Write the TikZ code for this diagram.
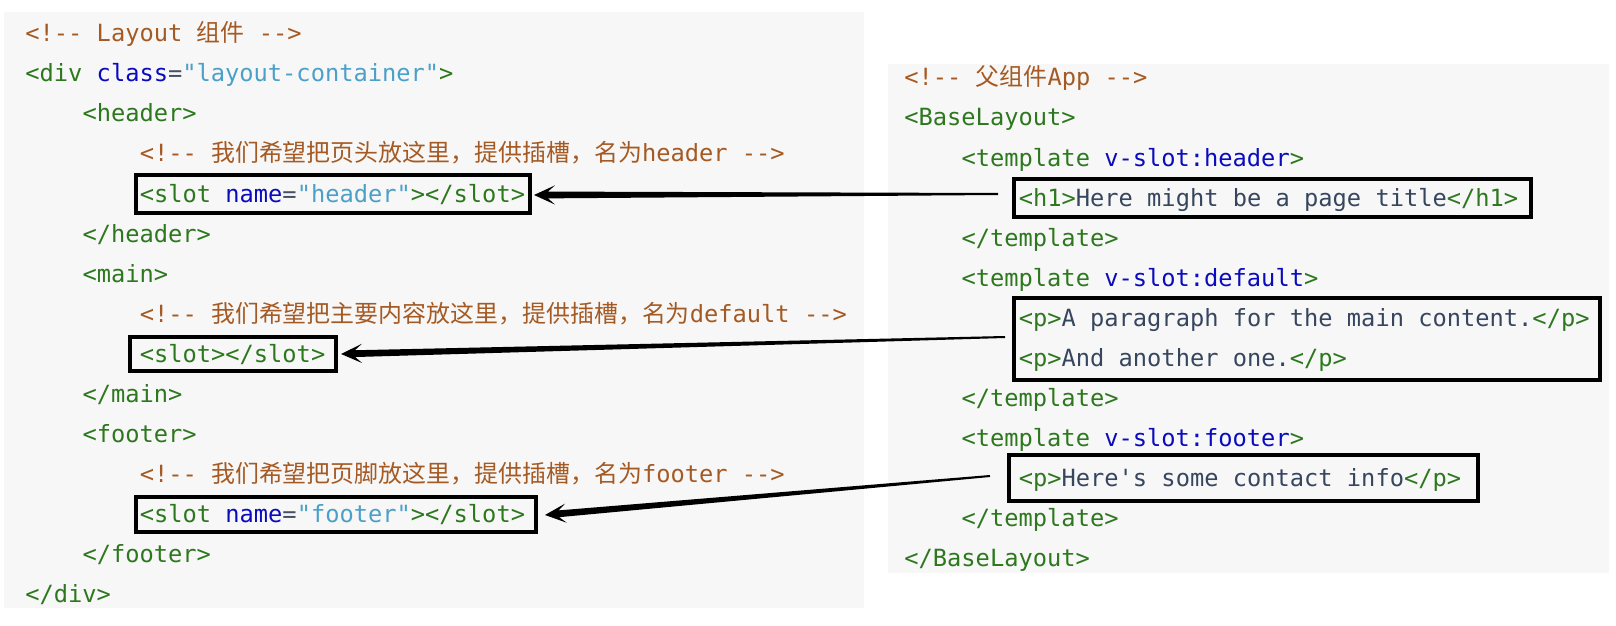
\documentclass[tikz,border=0pt]{standalone}
\usepackage{fontspec}
\setmonofont{DejaVu Sans Mono}
\newfontfamily\cjk{Noto Sans CJK SC}[Scale=1.01]
\usetikzlibrary{calc}
\definecolor{cmtc}{RGB}{165,90,35}
\definecolor{tagc}{RGB}{45,120,30}
\definecolor{attc}{RGB}{10,10,190}
\definecolor{valc}{RGB}{75,160,200}
\definecolor{eqcc}{RGB}{70,80,100}
\definecolor{txtc}{RGB}{55,70,95}
\definecolor{bgc}{RGB}{247,247,247}
\newcommand\codecm[1]{\textcolor{cmtc}{#1}}
\newcommand\codetg[1]{\textcolor{tagc}{#1}}
\newcommand\codeat[1]{\textcolor{attc}{#1}}
\newcommand\codeeq[1]{\textcolor{eqcc}{#1}}
\newcommand\codevl[1]{\textcolor{valc}{#1}}
\newcommand\codetx[1]{\textcolor{txtc}{#1}}
\newcommand\taperarrow[2]{%
  \coordinate (tb) at ($(#2)!7pt!(#1)$);
  \coordinate (tc) at ($(#2)!10.5pt!(#1)$);
  \fill[black] ($(#1)!0.5pt!90:(#2)$) -- ($(tb)!1.7pt!90:(#2)$) -- ($(tc)!4.8pt!90:(#2)$) -- (#2)
    -- ($(tc)!4.8pt!-90:(#2)$) -- ($(tb)!1.7pt!-90:(#2)$) -- ($(#1)!0.5pt!-90:(#2)$) -- cycle;
}
\tikzset{
  code/.style={anchor=base west, inner sep=0pt, font=\fontsize{11.85pt}{14pt}\ttfamily},
  slotbox/.style={draw=black, line width=2pt, inner sep=0pt, outer sep=0pt},
}
\begin{document}
\begin{tikzpicture}[x=0.5pt,y=-0.5pt]
\useasboundingbox (0,0) rectangle (1616,626);
% panels
\fill[bgc] (4,12) rectangle (864,608);
\fill[bgc] (888,64) rectangle (1609,573);
% left code (baseline = line centre + 8)
\node[code] (l0)  at (25,42)     {\codecm{<!-{}- Layout {\cjk 组件} -{}->}};
\node[code] (l1)  at (25,82)     {\codetg{<div} \codeat{class}\codeeq{=}\codevl{"layout-container"}\codetg{>}};
\node[code] (l2)  at (82.2,122)  {\codetg{<header>}};
\node[code] (l3)  at (139.4,162) {\codecm{<!-{}- {\cjk 我们希望把页头放这里，提供插槽，名为}header -{}->}};
\node[code] (l4)  at (139.4,202) {\codetg{<slot} \codeat{name}\codeeq{=}\codevl{"header"}\codetg{></slot>}};
\node[code] (l5)  at (82.2,242)  {\codetg{</header>}};
\node[code] (l6)  at (82.2,282)  {\codetg{<main>}};
\node[code] (l7)  at (139.4,322) {\codecm{<!-{}- {\cjk 我们希望把主要内容放这里，提供插槽，名为}default -{}->}};
\node[code] (l8)  at (139.4,362) {\codetg{<slot></slot>}};
\node[code] (l9)  at (82.2,402)  {\codetg{</main>}};
\node[code] (l10) at (82.2,442)  {\codetg{<footer>}};
\node[code] (l11) at (139.4,482) {\codecm{<!-{}- {\cjk 我们希望把页脚放这里，提供插槽，名为}footer -{}->}};
\node[code] (l12) at (139.4,522) {\codetg{<slot} \codeat{name}\codeeq{=}\codevl{"footer"}\codetg{></slot>}};
\node[code] (l13) at (82.2,562)  {\codetg{</footer>}};
\node[code] (l14) at (25,602)    {\codetg{</div>}};
% right code
\node[code] (r0)  at (904,86)    {\codecm{<!-{}- {\cjk 父组件}App -{}->}};
\node[code] (r1)  at (904,126)   {\codetg{<BaseLayout>}};
\node[code] (r2)  at (961.2,166) {\codetg{<template} \codeat{v-slot:header}\codetg{>}};
\node[code] (r3)  at (1018.4,206){\codetg{<h1>}\codetx{Here might be a page title}\codetg{</h1>}};
\node[code] (r4)  at (961.2,246) {\codetg{</template>}};
\node[code] (r5)  at (961.2,286) {\codetg{<template} \codeat{v-slot:default}\codetg{>}};
\node[code] (r6)  at (1018.4,326){\codetg{<p>}\codetx{A paragraph for the main content.}\codetg{</p>}};
\node[code] (r7)  at (1018.4,366){\codetg{<p>}\codetx{And another one.}\codetg{</p>}};
\node[code] (r8)  at (961.2,406) {\codetg{</template>}};
\node[code] (r9)  at (961.2,446) {\codetg{<template} \codeat{v-slot:footer}\codetg{>}};
\node[code] (r10) at (1018.4,486){\codetg{<p>}\codetx{Here's some contact info}\codetg{</p>}};
\node[code] (r11) at (961.2,526) {\codetg{</template>}};
\node[code] (r12) at (904,566)   {\codetg{</BaseLayout>}};
% boxes
\node[slotbox, minimum width=197pt, minimum height=19pt]  (hs) at (333,194) {};
\node[slotbox, minimum width=103pt, minimum height=17pt]  (ms) at (233,354) {};
\node[slotbox, minimum width=200pt, minimum height=17.5pt] (fs) at (336,514.5) {};
\node[slotbox, minimum width=258.5pt, minimum height=19pt] (hr) at (1272.5,198) {};
\node[slotbox, minimum width=293pt, minimum height=41pt]  (dr) at (1307,339) {};
\node[slotbox, minimum width=234.5pt, minimum height=23pt] (cr) at (1243.5,478) {};
% arrows
\coordinate (s1) at (998,194);
\coordinate (t1) at ($(hs.east)+(4,1)$);
\coordinate (s2) at (1005,337);
\coordinate (t2) at ($(ms.east)+(5,0)$);
\coordinate (s3) at (990,476);
\coordinate (t3) at ($(fs.east)+(9,0.5)$);
\taperarrow{s1}{t1}
\taperarrow{s2}{t2}
\taperarrow{s3}{t3}
\end{tikzpicture}
\end{document}
